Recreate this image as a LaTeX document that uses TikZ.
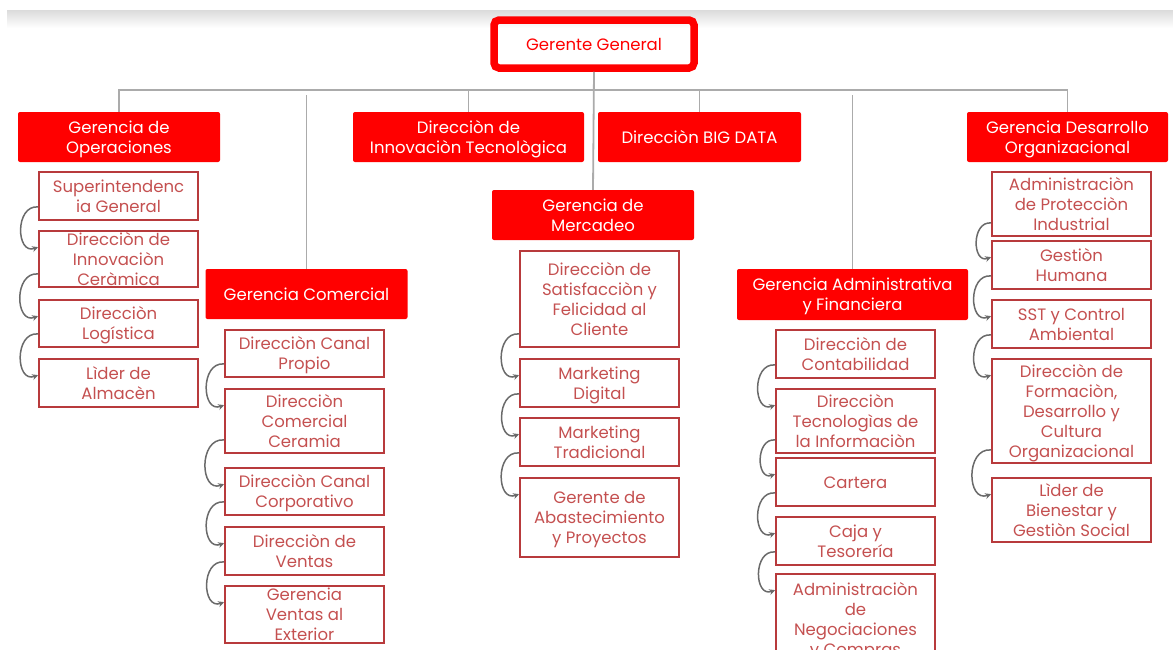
\documentclass[tikz,border=0pt]{standalone}
\usepackage{fontspec}
\setmainfont{Poppins}
\usetikzlibrary{arrows.meta}
\definecolor{orgred}{HTML}{FF0000}
\definecolor{subred}{HTML}{B83A3C}
\definecolor{subtext}{HTML}{C45050}
\definecolor{lnkgray}{HTML}{ABABAB}
\definecolor{arrgray}{HTML}{6A6A6A}
% text of fixed height, so boxes keep their size
\newcommand\fitbox[1]{\raisebox{-6.5pt}[0pt][0pt]{\begin{tabular}{@{}c@{}}#1\end{tabular}}}

\begin{document}
\begin{tikzpicture}[x=1pt,y=-1pt,font=\fontsize{16.5}{20}\selectfont,
  head/.style={fill=orgred,text=white,rounded corners=2pt,minimum width=202pt,minimum height=50pt,inner sep=0pt},
  unit/.style={draw=subred,line width=1.8pt,text=subtext,minimum width=159pt,inner sep=0pt},
  link/.style={draw=lnkgray,line width=1.8pt},
  flow/.style={draw=arrgray,line width=1.5pt,-{Stealth[length=6pt,width=6pt]},out=175,in=200,looseness=1.5}]
\useasboundingbox (0,0) rectangle (1173,649);
\clip (0,0) rectangle (1173,649);
\shade[top color=black!14,bottom color=white] (7,10) rectangle (1173,28);
\coordinate (bar) at (0,90);
\coordinate (drop) at (0,95);

% top
\node[draw=orgred,line width=7.5pt,rounded corners=5pt,minimum width=200pt,minimum height=48pt,text=orgred] (gg) at (594,44) {Gerente General};

% first level
\node[head] (ops) at (119,137) {\fitbox{Gerencia de\\Operaciones}};
\node[head,minimum width=231pt] (inno) at (468.5,137) {\fitbox{Direcciòn de\\Innovaciòn Tecnològica}};
\node[head,minimum width=203pt] (big) at (699.5,137) {\fitbox{Direcciòn BIG DATA}};
\node[head,minimum width=201pt] (dorg) at (1067.5,137) {\fitbox{Gerencia Desarrollo\\Organizacional}};
\node[head] (com) at (306.5,294) {\fitbox{Gerencia Comercial}};
\node[head] (mer) at (593,215) {\fitbox{Gerencia de\\Mercadeo}};
\node[head,minimum width=231pt,minimum height=51pt] (adm) at (852.5,294.5) {\fitbox{Gerencia Administrativa\\y Financiera}};

% operaciones
\node[unit,minimum height=48pt] (ops1) at (118.5,196) {\fitbox{Superintendenc\\ia General}};
\node[unit,minimum height=56pt] (ops2) at (118.5,259) {\fitbox{Direcciòn de\\Innovaciòn\\Ceràmica}};
\node[unit,minimum height=47pt] (ops3) at (118.5,323.5) {\fitbox{Direcciòn\\Logística}};
\node[unit,minimum height=48pt] (ops4) at (118.5,383) {\fitbox{Lìder de\\Almacèn}};

% comercial
\node[unit,minimum height=47pt] (com1) at (304.5,353.5) {\fitbox{Direcciòn Canal\\Propio}};
\node[unit,minimum height=64pt] (com2) at (304.5,421) {\fitbox{Direcciòn\\Comercial\\Ceramia}};
\node[unit,minimum height=47pt] (com3) at (304.5,491.5) {\fitbox{Direcciòn Canal\\Corporativo}};
\node[unit,minimum height=48pt] (com4) at (304.5,551) {\fitbox{Direcciòn de\\Ventas}};
\node[unit,minimum height=57pt] (com5) at (304.5,614.5) {\fitbox{Gerencia\\Ventas al\\Exterior}};

% mercadeo
\node[unit,minimum height=96pt] (mer1) at (599.5,299) {\fitbox{Direcciòn de\\Satisfacciòn y\\Felicidad al\\Cliente}};
\node[unit,minimum height=48pt] (mer2) at (599.5,383) {\fitbox{Marketing\\Digital}};
\node[unit,minimum height=48pt] (mer3) at (599.5,442) {\fitbox{Marketing\\Tradicional}};
\node[unit,minimum height=79pt] (mer4) at (599.5,517.5) {\fitbox{Gerente de\\Abastecimiento\\y Proyectos}};

% administrativa
\node[unit,minimum height=48pt] (adm1) at (855.5,354) {\fitbox{Direcciòn de\\Contabilidad}};
\node[unit,minimum height=64pt] (adm2) at (855.5,421) {\fitbox{Direcciòn\\Tecnologìas de\\la Informaciòn}};
\node[unit,minimum height=48pt] (adm3) at (855.5,482) {\fitbox{Cartera}};
\node[unit,minimum height=48pt] (adm4) at (855.5,541) {\fitbox{Caja y\\Tesorería}};
\node[unit,minimum height=91pt] (adm5) at (855.5,619.5) {\fitbox{Administraciòn\\de\\Negociaciones\\y Compras}};

% desarrollo organizacional
\node[unit,minimum height=64pt] (dorg1) at (1071.5,204) {\fitbox{Administraciòn\\de Protecciòn\\Industrial}};
\node[unit,minimum height=48pt] (dorg2) at (1071.5,265) {\fitbox{Gestiòn\\Humana}};
\node[unit,minimum height=48pt] (dorg3) at (1071.5,324) {\fitbox{SST y Control\\Ambiental}};
\node[unit,minimum height=104pt] (dorg4) at (1071.5,411) {\fitbox{Direcciòn de\\Formaciòn,\\Desarrollo y\\Cultura\\Organizacional}};
\node[unit,minimum height=64pt] (dorg5) at (1071.5,510) {\fitbox{Lìder de\\Bienestar y\\Gestiòn Social}};

% connectors
\draw[link] (ops.north) -- (ops.north |- bar) -- (dorg.north |- bar) -- (dorg.north);
\draw[link] (inno.north) -- (inno.north |- bar);
\draw[link] (big.north) -- (big.north |- bar);
\draw[link] (gg.south) -- (mer.north);
\draw[link] (com.north) -- (com.north |- drop);
\draw[link] (adm.north) -- (adm.north |- drop);

% sequence arrows
\foreach \a/\b in {ops1/ops2,ops2/ops3,ops3/ops4,com1/com2,com2/com3,com3/com4,com4/com5,
  mer1/mer2,mer2/mer3,mer3/mer4,adm1/adm2,adm2/adm3,adm3/adm4,adm4/adm5,
  dorg1/dorg2,dorg2/dorg3,dorg3/dorg4,dorg4/dorg5}
  \draw[flow] ([yshift=14pt]\a.south west) to ([yshift=-17pt]\b.north west);
\end{tikzpicture}
\end{document}
